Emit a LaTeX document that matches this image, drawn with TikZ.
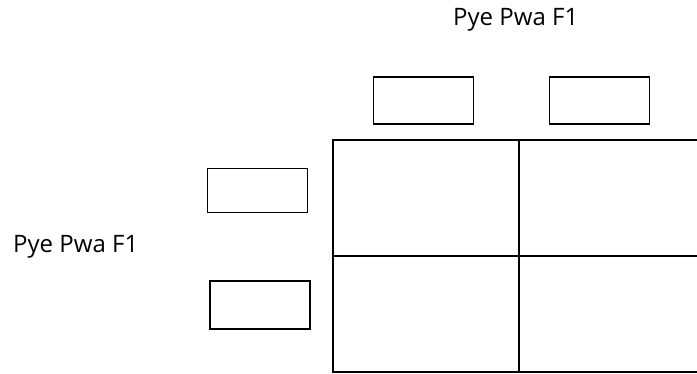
\documentclass[tikz,border=0pt]{standalone}
\usepackage{fontspec}
\setmainfont{Open Sans}
\begin{document}
\begin{tikzpicture}[x=1pt,y=-1pt,
  lbl/.style={inner sep=0pt,font=\fontsize{24}{28}\selectfont,anchor=base west},
  allele/.style={draw=black,line width=1.5pt,fill=white,inner sep=0pt,minimum width=100pt,minimum height=47pt},
  gridline/.style={draw=black,line width=2pt,line cap=rect}]
\useasboundingbox (0,0) rectangle (697,373);
% labels
\node[lbl] (top) at (453,25) {Pye Pwa F1};
\node[lbl] (left) at (13,252.5) {Pye Pwa F1};
% allele boxes
\node[allele] (b1) at (423.3,100.5) {};
\node[allele] (b2) at (599.3,100.5) {};
\node[allele,minimum height=44pt] (b3) at (257.3,190.5) {};
\node[allele,minimum height=48pt] (b4) at (260,305) {};
% punnett grid
\coordinate (tl) at (333,140);
\coordinate (tr) at (700,140);
\coordinate (ml) at (333,256);
\coordinate (mr) at (700,256);
\coordinate (bl) at (333,372);
\coordinate (br) at (700,372);
\coordinate (tm) at (518.5,140);
\coordinate (bm) at (518.5,372);
\draw[gridline] (tr) -- (tl) -- (bl) -- (br);
\draw[gridline] (ml) -- (mr);
\draw[gridline] (tm) -- (bm);
\end{tikzpicture}
\end{document}
